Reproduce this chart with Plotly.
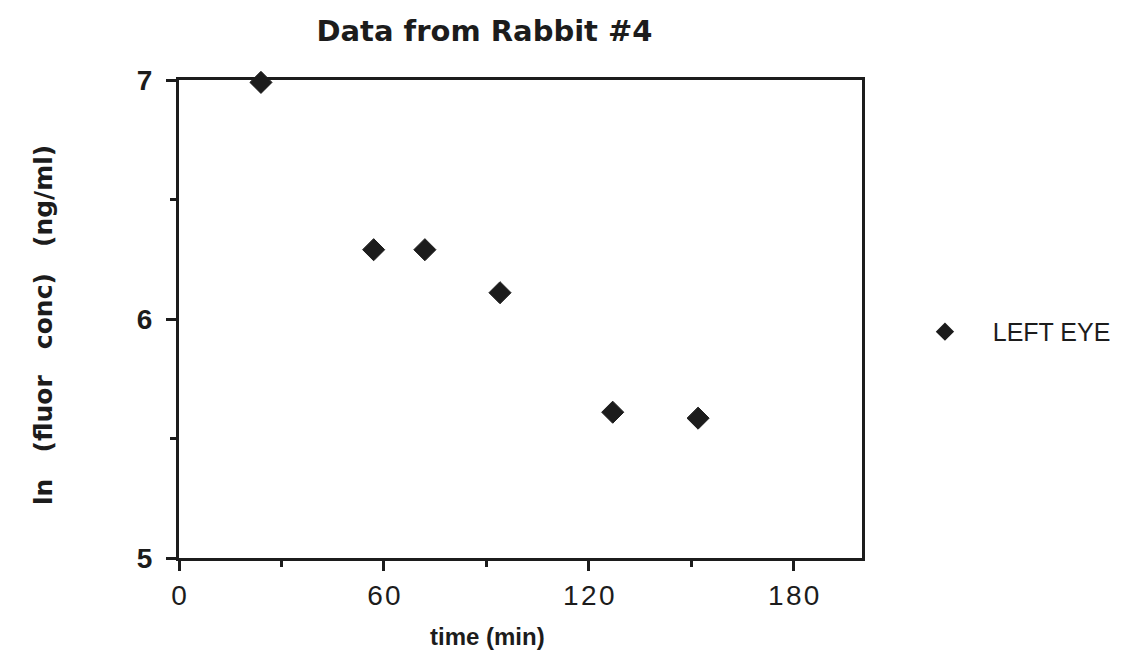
import plotly.graph_objects as go

# Left eye measurements for rabbit #4
time_min = [24, 57, 72, 94, 127, 152]
ln_conc = [6.99, 6.29, 6.29, 6.11, 5.61, 5.585]
series_name = "LEFT EYE"

x_ticks = [0, 60, 120, 180]
y_ticks = [5, 6, 7]

ink = "#1c1c1c"
nb = "\u00a0"
hair = "\u200a"
bold_face = "DejaVu Sans, Liberation Sans, sans-serif"
plain_face = "Liberation Sans, Arial, sans-serif"

fig = go.Figure()
fig.add_trace(go.Scatter(
    x=time_min, y=ln_conc, mode="markers", name=nb * 4 + series_name,
    cliponaxis=False,
    marker=dict(symbol="diamond", size=17, color=ink, line=dict(width=1, color=ink)),
))

fig.update_layout(
    width=1132, height=660,
    margin=dict(l=179, r=270, t=80, b=102),
    paper_bgcolor="white", plot_bgcolor="white",
    font=dict(family=plain_face, color=ink),
    title=dict(
        text="Data from Rabbit #4",
        x=0.428, xanchor="center", y=0.954, yanchor="middle",
        font=dict(family=bold_face, size=29, color=ink, weight="bold"),
    ),
    showlegend=True,
    legend=dict(
        x=1.0922, y=0.473, xanchor="left", yanchor="middle",
        font=dict(family=plain_face, size=25, color=ink),
        bgcolor="rgba(0,0,0,0)", itemsizing="constant",
    ),
    annotations=[
        dict(
            text="time (min)", xref="paper", yref="paper",
            x=(487 - 179) / 683, y=-(636 - 558) / 478,
            xanchor="center", yanchor="middle", showarrow=False,
            font=dict(family=plain_face, size=24, color=ink, weight="bold"),
        ),
        dict(
            text="ln" + nb * 3 + "(fluor" + nb * 3 + "conc)" + nb * 3 + "(ng/ml)",
            xref="paper", yref="paper", textangle=-90,
            x=-(179 - 43) / 683, y=(558 - 325) / 478,
            xanchor="center", yanchor="middle", showarrow=False,
            font=dict(family=bold_face, size=25, color=ink, weight="bold"),
        ),
    ],
)

fig.update_xaxes(
    range=[0, 200], tickvals=x_ticks, ticktext=[hair.join(str(v)) for v in x_ticks],
    showline=True, linewidth=3, linecolor=ink, mirror=True,
    ticks="outside", ticklen=10, tickwidth=3, tickcolor=ink,
    minor=dict(tickvals=[30, 90, 150], ticks="outside", ticklen=6, tickwidth=3, tickcolor=ink),
    showgrid=False, zeroline=False,
    tickfont=dict(size=28, color=ink),
)

fig.update_yaxes(
    range=[5, 7], tickvals=y_ticks,
    showline=True, linewidth=3, linecolor=ink, mirror=True,
    ticks="outside", ticklen=10, tickwidth=3, tickcolor=ink,
    minor=dict(tickvals=[5.5, 6.5], ticks="outside", ticklen=6, tickwidth=3, tickcolor=ink),
    showgrid=False, zeroline=False,
    ticklabelstandoff=8,
    tickfont=dict(size=28, color=ink, weight="bold"),
)

fig.write_html("out.html")
